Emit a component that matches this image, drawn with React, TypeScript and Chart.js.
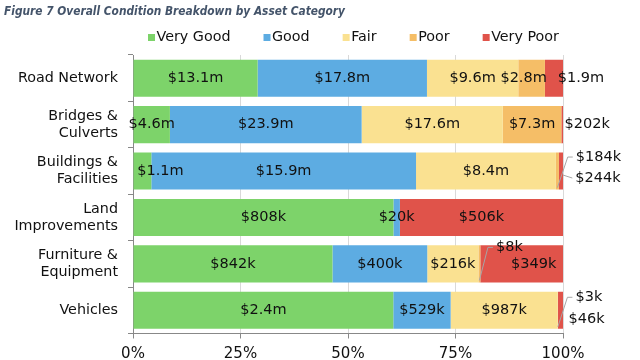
import React, { useEffect, useRef } from "react";
import { Chart, registerables } from "chart.js";

Chart.register(...registerables);

const TITLE = "Figure 7 Overall Condition Breakdown by Asset Category";

const categories: string[][] = [
  ["Road Network"],
  ["Bridges &", "Culverts"],
  ["Buildings &", "Facilities"],
  ["Land", "Improvements"],
  ["Furniture &", "Equipment"],
  ["Vehicles"],
];

const seriesNames = ["Very Good", "Good", "Fair", "Poor", "Very Poor"];

// values in $ thousands
const veryGood = [13100, 4600, 1100, 808, 842, 2400];
const good = [17800, 23900, 15900, 20, 400, 529];
const fair = [9600, 17600, 8400, 0, 216, 987];
const poor = [2800, 7300, 184, 0, 8, 3];
const veryPoor = [1900, 202, 244, 506, 349, 46];

const xTicks = [0, 25, 50, 75, 100];

const seriesColors = ["#7DD36A", "#5DACE2", "#FAE191", "#F5BE67", "#E0534A"];

const FONT = "'DejaVu Sans', Verdana, sans-serif";

const seriesValues = [veryGood, good, fair, poor, veryPoor];
const totals = categories.map((_, j) =>
  seriesValues.reduce((s, arr) => s + arr[j], 0)
);

function fmt(v: number): string {
  return v >= 1000 ? `$${(v / 1000).toFixed(1)}m` : `$${v}k`;
}

// label nudges (px) relative to the segment centre, keyed "category:series"
const LABEL_NUDGE: Record<
  string,
  { dx: number; dy?: number; leader?: "elbow" | "short" }
> = {
  "0:3": { dx: -8 },
  "0:4": { dx: 27 },
  "1:4": { dx: 25 },
  "2:0": { dx: 18 },
  "2:3": { dx: 41, dy: -14, leader: "elbow" },
  "2:4": { dx: 37, dy: 7, leader: "short" },
  "4:3": { dx: 30, dy: -16.5, leader: "elbow" },
  "4:4": { dx: 12 },
  "5:3": { dx: 31, dy: -13, leader: "elbow" },
  "5:4": { dx: 26, dy: 8.5 },
};

const segLabels = {
  id: "segLabels",
  afterDatasetsDraw(chart: any) {
    const ctx = chart.ctx as CanvasRenderingContext2D;
    ctx.save();
    ctx.font = `14.5px ${FONT}`;
    ctx.textAlign = "center";
    ctx.textBaseline = "middle";
    chart.data.datasets.forEach((_ds: any, i: number) => {
      const meta = chart.getDatasetMeta(i);
      meta.data.forEach((el: any, j: number) => {
        const v = seriesValues[i][j];
        if (!v) return;
        const { x, y, base, height } = el.getProps(
          ["x", "y", "base", "height"],
          true
        );
        const cx = (x + base) / 2;
        const n = LABEL_NUDGE[`${j}:${i}`] || { dx: 0 };
        const lx = cx + n.dx;
        const ly = y + (n.dy || 0);
        const text = fmt(v);
        const w = ctx.measureText(text).width;
        if (n.leader) {
          const left = lx - w / 2;
          ctx.strokeStyle = "#a6a6a6";
          ctx.lineWidth = 1;
          ctx.beginPath();
          if (n.leader === "elbow") {
            ctx.moveTo(cx, y + height / 2 - 2);
            ctx.lineTo(left - 8, ly);
            ctx.lineTo(left - 3, ly);
          } else {
            ctx.moveTo(x, y + 4);
            ctx.lineTo(left - 3, ly);
          }
          ctx.stroke();
        }
        ctx.fillStyle = "#111";
        ctx.fillText(text, lx, ly);
      });
    });
    ctx.restore();
  },
};

const titleLegend = {
  id: "titleLegend",
  afterDraw(chart: any) {
    const ctx = chart.ctx as CanvasRenderingContext2D;
    ctx.save();
    // title
    ctx.font = `italic bold 12.5px ${FONT}`;
    ctx.fillStyle = "#44546A";
    ctx.textAlign = "left";
    ctx.textBaseline = "alphabetic";
    ctx.fillText(TITLE, 4, 15, 341);
    // legend
    ctx.font = `14.3px ${FONT}`;
    const box = 7;
    const boxGap = 8.5;
    const itemGap = 33;
    const widths = seriesNames.map((s) => ctx.measureText(s).width);
    const total =
      widths.reduce((a, b) => a + b, 0) +
      seriesNames.length * boxGap +
      (seriesNames.length - 1) * itemGap;
    let x = 353.5 - total / 2;
    const baseline = 41;
    seriesNames.forEach((s, i) => {
      ctx.fillStyle = seriesColors[i];
      ctx.fillRect(x, baseline - box, box, box);
      ctx.fillStyle = "#111";
      ctx.fillText(s, x + boxGap, baseline);
      x += boxGap + widths[i] + itemGap;
    });
    ctx.restore();
  },
};

export default function App() {
  const ref = useRef<HTMLCanvasElement | null>(null);
  useEffect(() => {
    if (!ref.current) return;
    const chart = new Chart(ref.current, {
      type: "bar",
      data: {
        labels: categories,
        datasets: seriesNames.map((name, i) => ({
          label: name,
          data: seriesValues[i].map((v, j) => (v / totals[j]) * 100),
          backgroundColor: seriesColors[i],
          borderWidth: 0,
          categoryPercentage: 0.8,
          barPercentage: 1,
        })),
      },
      options: {
        indexAxis: "y",
        responsive: false,
        animation: false,
        layout: { padding: { top: 55, right: 77, left: 0, bottom: 0 } },
        plugins: {
          legend: { display: false },
          title: { display: false },
          tooltip: { enabled: false },
        },
        scales: {
          x: {
            type: "linear",
            stacked: true,
            min: 0,
            max: 100,
            afterBuildTicks: (s: any) => {
              s.ticks = xTicks.map((v) => ({ value: v }));
            },
            afterFit: (s: any) => {
              s.height = 26.5;
            },
            grid: { color: "#d9d9d9", tickColor: "#888", tickLength: 5 },
            border: { color: "#888" },
            ticks: {
              font: { family: FONT, size: 15 },
              color: "#111",
              padding: 7,
              callback: (v: any) => `${v}%`,
            },
          },
          y: {
            type: "category",
            stacked: true,
            afterFit: (s: any) => {
              s.width = 133;
            },
            grid: {
              drawOnChartArea: false,
              color: "#888",
              tickLength: 5,
              offset: true,
            },
            border: { color: "#888" },
            ticks: {
              font: { family: FONT, size: 14.3, lineHeight: 1.2 },
              color: "#111",
              padding: 10,
            },
          },
        },
      },
      plugins: [segLabels, titleLegend],
    } as any);
    return () => chart.destroy();
  }, []);
  return (
    <div
      style={{
        position: "absolute",
        left: 0,
        top: 0,
        width: 640,
        height: 360,
        background: "#fff",
      }}
    >
      <canvas
        ref={ref}
        width={640}
        height={360}
        style={{ display: "block", width: 640, height: 360 }}
      />
    </div>
  );
}
